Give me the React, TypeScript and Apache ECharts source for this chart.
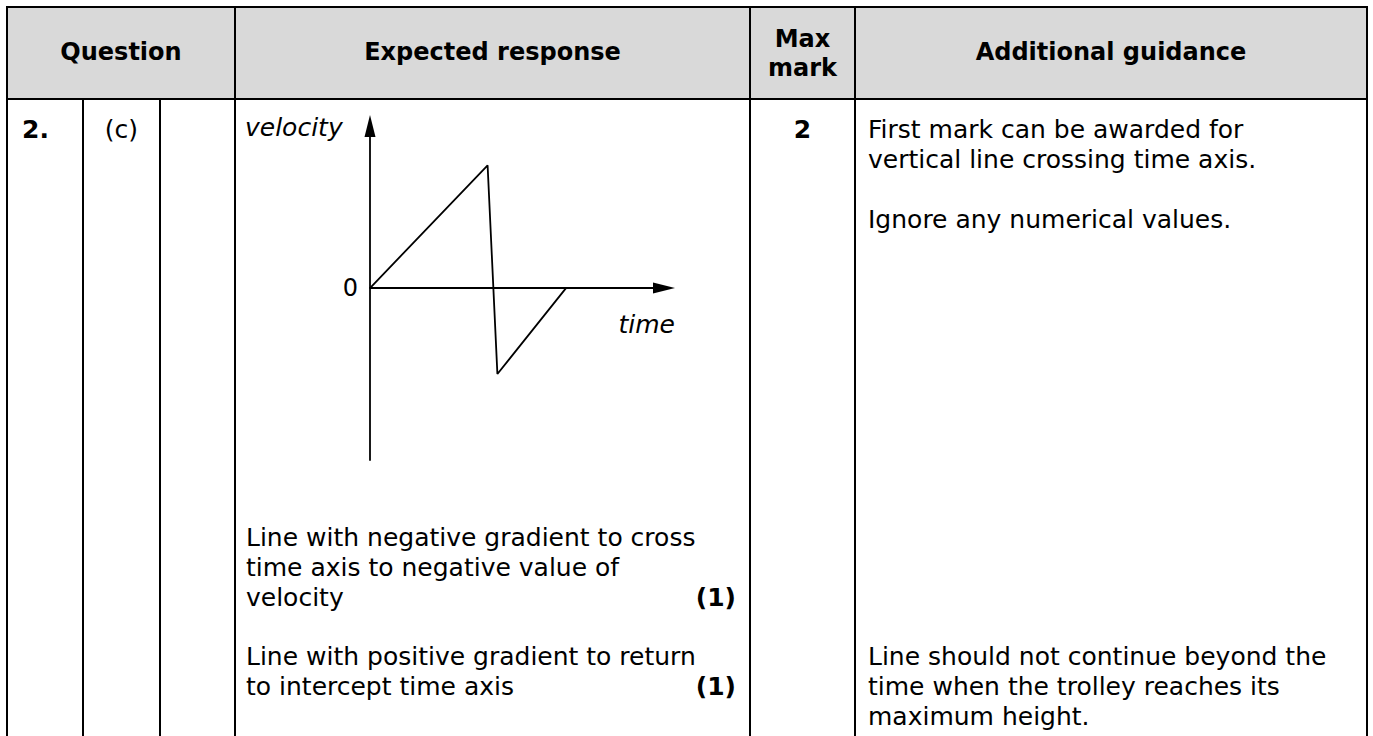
import React, { useEffect, useRef } from "react";
import * as echarts from "echarts";

// ---- chart data ----
const timeValues = [0, 4.8, 5.2, 8.0];
const velocityValues = [0, 5.0, -3.5, 0];
const yTickLabels = ["0"];
const xAxisTitle = "time";
const yAxisTitle = "velocity";

// ---- table texts ----
const headerLabels = ["Question", "Expected response", "Additional guidance"];
const maxMarkHeader = ["Max", "mark"];
const questionNumber = "2.";
const questionPart = "(c)";
const maxMarkValue = "2";
const responseLinesA = ["Line with negative gradient to cross", "time axis to negative value of", "velocity"];
const responseLinesB = ["Line with positive gradient to return", "to intercept time axis"];
const partMarks = ["(1)", "(1)"];
const guidanceTop = ["First mark can be awarded for", "vertical line crossing time axis.", "", "Ignore any numerical values."];
const guidanceBottom = ["Line should not continue beyond the", "time when the trolley reaches its", "maximum height."];

const FONT = "'DejaVu Sans', 'Noto Sans', sans-serif";
const W = 1373;
const H = 736;

function txt(text: string, x: number, y: number, o: any = {}) {
  const align = o.align || "left";
  return {
    type: "text",
    silent: true,
    z: 20,
    style: {
      text,
      x,
      y,
      fill: "#000",
      fontFamily: FONT,
      fontSize: o.size || 25,
      fontWeight: o.weight || "normal",
      fontStyle: o.style || "normal",
      align,
      verticalAlign: "middle",
      textAlign: align,
      textVerticalAlign: "middle",
    },
  };
}

function ln(x1: number, y1: number, x2: number, y2: number, w = 2) {
  return {
    type: "line",
    silent: true,
    z: 10,
    shape: { x1, y1, x2, y2 },
    style: { stroke: "#000", lineWidth: w },
  };
}

export default function App() {
  const ref = useRef<HTMLDivElement>(null);

  useEffect(() => {
    if (!ref.current) return;
    const chart = echarts.init(ref.current, undefined, { renderer: "svg" });

    const L = 7, R = 1367, T = 7, HB = 99;
    const c1 = 83, c2 = 160, c3 = 235, c4 = 750, c5 = 855;
    const lh = 30;

    const graphics: any[] = [];
    graphics.push({
      type: "rect",
      silent: true,
      z: 5,
      shape: { x: L, y: T, width: R - L, height: HB - T },
      style: { fill: "#d9d9d9" },
    });
    // borders
    graphics.push(ln(L - 1, T, R + 1, T));
    graphics.push(ln(L, T - 1, L, H));
    graphics.push(ln(R, T - 1, R, H));
    graphics.push(ln(L - 1, HB, R + 1, HB));
    graphics.push(ln(c1, HB, c1, H));
    graphics.push(ln(c2, HB, c2, H));
    graphics.push(ln(c3, T, c3, H));
    graphics.push(ln(c4, T, c4, H));
    graphics.push(ln(c5, T, c5, H));

    // header
    const hy = 52;
    graphics.push(txt(headerLabels[0], (L + c3) / 2, hy, { weight: "bold", align: "center", size: 24 }));
    graphics.push(txt(headerLabels[1], (c3 + c4) / 2, hy, { weight: "bold", align: "center", size: 24 }));
    graphics.push(txt(maxMarkHeader[0], (c4 + c5) / 2, 39, { weight: "bold", align: "center", size: 24 }));
    graphics.push(txt(maxMarkHeader[1], (c4 + c5) / 2, 68, { weight: "bold", align: "center", size: 24 }));
    graphics.push(txt(headerLabels[2], (c5 + R) / 2, hy, { weight: "bold", align: "center", size: 24 }));

    // first row
    const ry = 129;
    graphics.push(txt(questionNumber, 22, ry, { weight: "bold" }));
    graphics.push(txt(questionPart, (c1 + c2) / 2, ry, { align: "center" }));
    graphics.push(txt(maxMarkValue, (c4 + c5) / 2, ry, { weight: "bold", align: "center" }));
    graphics.push(txt(yAxisTitle, 245, 127, { style: "italic" }));
    graphics.push(txt(xAxisTitle, 675, 324, { style: "italic", align: "right" }));

    guidanceTop.forEach((s, i) => {
      if (s) graphics.push(txt(s, c5 + 13, ry + i * lh, {}));
    });

    const ay = 537;
    responseLinesA.forEach((s, i) => graphics.push(txt(s, c3 + 11, ay + i * lh, {})));
    graphics.push(txt(partMarks[0], c4 - 14, ay + 2 * lh, { weight: "bold", align: "right" }));
    const by = 656;
    responseLinesB.forEach((s, i) => graphics.push(txt(s, c3 + 11, by + i * lh, {})));
    graphics.push(txt(partMarks[1], c4 - 14, by + lh, { weight: "bold", align: "right" }));
    guidanceBottom.forEach((s, i) => graphics.push(txt(s, c5 + 13, by + i * lh, {})));

    const axisLineStyle = { color: "#000", width: 1.8 };

    chart.setOption({
      animation: false,
      backgroundColor: "#fff",
      grid: { left: 370, top: 126, width: 294, height: 334, containLabel: false },
      xAxis: {
        type: "value",
        min: 0,
        max: 12,
        axisLine: {
          show: true,
          onZero: true,
          symbol: ["none", "triangle"],
          symbolSize: [11, 22],
          lineStyle: axisLineStyle,
        },
        axisTick: { show: false },
        axisLabel: { show: false },
        splitLine: { show: false },
      },
      yAxis: {
        type: "value",
        min: -7,
        max: 6.6,
        interval: 7,
        axisLine: {
          show: true,
          onZero: true,
          symbol: ["none", "triangle"],
          symbolSize: [11, 22],
          lineStyle: axisLineStyle,
        },
        axisTick: { show: false },
        splitLine: { show: false },
        axisLabel: {
          show: true,
          margin: 12,
          color: "#000",
          fontSize: 24,
          fontFamily: FONT,
          formatter: (v: number) => (v === 0 ? yTickLabels[0] : ""),
        },
      },
      series: [
        {
          type: "line",
          data: timeValues.map((t, i) => [t, velocityValues[i]]),
          symbol: "none",
          clip: false,
          lineStyle: { color: "#000", width: 1.8 },
        },
      ],
      graphic: { elements: graphics },
    });

    return () => chart.dispose();
  }, []);

  return (
    <div
      ref={ref}
      style={{ position: "fixed", left: 0, top: 0, width: W, height: H, background: "#fff" }}
    />
  );
}
